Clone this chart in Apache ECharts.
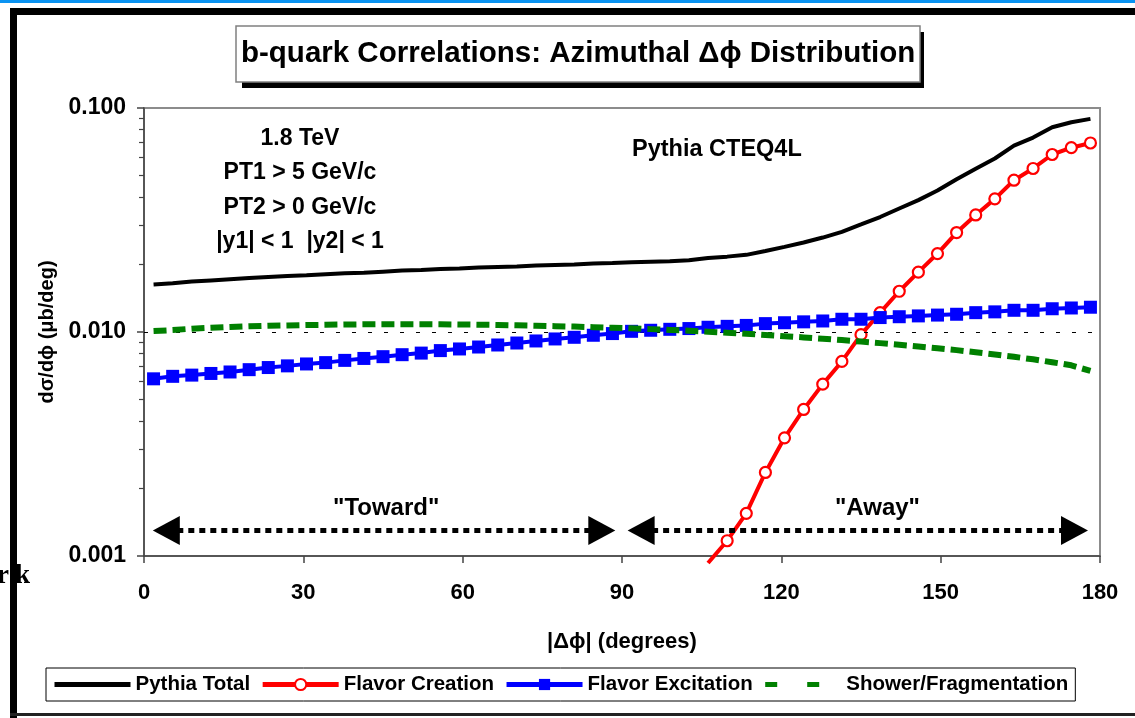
<!DOCTYPE html>
<html>
<head>
<meta charset="utf-8">
<script src="https://cdn.jsdelivr.net/npm/echarts@6/dist/echarts.min.js"></script>
<style>html,body{margin:0;padding:0;background:#fff;}#c{width:1135px;height:718px;}</style>
</head>
<body>
<div id="c"></div>
<script>
// ---- data ----
const xDeg = [1.8,5.4,9,12.6,16.2,19.8,23.4,27,30.6,34.2,37.8,41.4,45,48.6,52.2,55.8,59.4,63,66.6,70.2,73.8,77.4,81,84.6,88.2,91.8,95.4,99,102.6,106.2,109.8,113.4,117,120.6,124.2,127.8,131.4,135,138.6,142.2,145.8,149.4,153,156.6,160.2,163.8,167.4,171,174.6,178.2];
const pythiaTotal = [0.0163,0.0165,0.0168,0.0170,0.0172,0.0174,0.0176,0.0178,0.0179,0.0181,0.0183,0.0184,0.0186,0.0188,0.0189,0.0191,0.0192,0.0194,0.0195,0.0196,0.0198,0.0199,0.0200,0.0202,0.0203,0.0205,0.0206,0.0207,0.0209,0.0214,0.0217,0.0221,0.0230,0.0240,0.0251,0.0264,0.0280,0.0302,0.0326,0.0356,0.0388,0.0428,0.0481,0.0536,0.0595,0.0679,0.0738,0.0820,0.0864,0.0894];
const flavorExcitation = [0.00618,0.00634,0.00642,0.00653,0.00663,0.00679,0.00694,0.00706,0.00720,0.00730,0.00747,0.00762,0.00776,0.00792,0.00805,0.00826,0.00840,0.00857,0.00875,0.00893,0.00912,0.00931,0.00947,0.00967,0.00984,0.01007,0.01018,0.01028,0.01036,0.0105,0.0106,0.0107,0.0109,0.0110,0.0111,0.0112,0.0114,0.0114,0.0116,0.0117,0.0118,0.0119,0.0120,0.0122,0.0123,0.0125,0.0125,0.0127,0.0128,0.0129];
const showerFrag = [0.0101,0.0102,0.01035,0.01045,0.01053,0.0106,0.01066,0.0107,0.01074,0.01077,0.0108,0.01082,0.01083,0.01083,0.01083,0.01082,0.0108,0.01078,0.01075,0.01071,0.01067,0.01062,0.01057,0.01051,0.01045,0.01038,0.0103,0.01022,0.01013,0.01003,0.00993,0.00982,0.0097,0.00958,0.00946,0.00933,0.0092,0.00906,0.00892,0.00877,0.00862,0.00846,0.0083,0.00812,0.00794,0.00775,0.00755,0.00733,0.0071,0.0067];
const creationDeg = [106.2,109.8,113.4,117,120.6,124.2,127.8,131.4,135,138.6,142.2,145.8,149.4,153,156.6,160.2,163.8,167.4,171,174.6,178.2];
const flavorCreation = [0.00093,0.00117,0.00155,0.00236,0.00337,0.00451,0.00585,0.00739,0.00973,0.0122,0.0152,0.0185,0.0224,0.0278,0.0333,0.0393,0.0476,0.0537,0.0620,0.0665,0.0698];
const seriesNames = ['Pythia Total','Flavor Creation','Flavor Excitation','Shower/Fragmentation'];
const xTicks = [0,30,60,90,120,150,180];
const yMajorTicks = [0.001,0.010,0.100];
const yMinorTicks = [0.002,0.003,0.004,0.005,0.006,0.007,0.008,0.009,0.02,0.03,0.04,0.05,0.06,0.07,0.08,0.09];
const infoLines = ['1.8 TeV','PT1 > 5 GeV/c','PT2 > 0 GeV/c','|y1| < 1  |y2| < 1'];

const F = '"Liberation Sans", Arial, sans-serif';
const zip = (xs, ys) => xs.map((x, i) => [x, ys[i]]);

const chart = echarts.init(document.getElementById('c'), null, {renderer: 'canvas'});
const option = {
  animation: false,
  backgroundColor: '#fff',
  title: {
    text: 'b-quark Correlations: Azimuthal \u0394\u03d5 Distribution',
    left: 236, top: 26,
    padding: [13, 5],
    backgroundColor: '#fff',
    borderColor: '#808080', borderWidth: 1.5,
    textStyle: {fontFamily: F, fontWeight: 'bold', fontSize: 29.5, color: '#000'}
  },
  legend: {
    data: [
      {name: seriesNames[0], itemStyle: {opacity: 0}},
      {name: seriesNames[1]},
      {name: seriesNames[2]},
      {name: seriesNames[3], itemStyle: {opacity: 0}, lineStyle: {type: [12, 30]}}
    ],
    left: 46, top: 668,
    padding: [6, 7, 6, 6],
    itemWidth: 76, itemHeight: 14, itemGap: 10,
    lineStyle: {width: 5},
    borderColor: '#000', borderWidth: 1, backgroundColor: '#fff',
    textStyle: {fontFamily: F, fontWeight: 'bold', fontSize: 20.5, color: '#000'}
  },
  grid: {left: 144, right: 35, top: 108, bottom: 162, show: true, borderColor: '#8c8c8c', borderWidth: 2, backgroundColor: 'transparent'},
  xAxis: {
    type: 'value', min: xTicks[0], max: xTicks[xTicks.length-1], interval: 30,
    name: '|\u0394\u03d5| (degrees)', nameLocation: 'middle', nameGap: 75,
    nameTextStyle: {fontFamily: F, fontWeight: 'bold', fontSize: 22, color: '#000'},
    axisLine: {show: true, onZero: false, lineStyle: {color: '#444', width: 1.5}},
    axisTick: {show: true, inside: false, length: 7, lineStyle: {color: '#444', width: 1.5}},
    axisLabel: {fontFamily: F, fontWeight: 'bold', fontSize: 22, color: '#000', margin: 26},
    splitLine: {show: false}
  },
  yAxis: [{
    type: 'log', logBase: 10, min: yMajorTicks[0], max: yMajorTicks[yMajorTicks.length-1],
    name: 'd\u03c3/d\u03d5 (\u03bcb/deg)', nameLocation: 'middle', nameGap: 86,
    nameTextStyle: {fontFamily: F, fontWeight: 'bold', fontSize: 20, color: '#000'},
    axisLine: {show: true, lineStyle: {color: '#444', width: 1.5}},
    axisTick: {show: true, inside: false, length: 7, lineStyle: {color: '#444', width: 1.5}},
    axisLabel: {fontFamily: F, fontWeight: 'bold', fontSize: 23, color: '#000', margin: 18,
      formatter: v => Number(v).toFixed(3)},
    splitLine: {show: false}
  }, {
    type: 'value', min: Math.log10(yMajorTicks[0]), max: Math.log10(yMajorTicks[yMajorTicks.length-1]),
    position: 'left',
    axisLine: {show: false},
    axisLabel: {show: false},
    splitLine: {show: false},
    axisTick: {show: true, inside: false, length: 5, customValues: yMinorTicks.map(v => Math.log10(v)), lineStyle: {color: '#444', width: 1.2}}
  }],
  graphic: [
    {type: 'rect', z: 0, shape: {x: 242, y: 32, width: 682, height: 56}, style: {fill: '#000'}},
    {type: 'text', z: 50, left: 300 - 120, top: 121, style: {text: infoLines.join('\n'), width: 240, align: 'center', textAlign: 'center', x: 120, lineHeight: 34.5, font: 'bold 23px ' + F, fill: '#000'}},
    {type: 'text', z: 50, left: 632, top: 138, style: {text: 'Pythia CTEQ4L', font: 'bold 23.5px ' + F, fill: '#000'}},
    {type: 'text', z: 40, left: -3, top: 563, style: {text: 'r', font: 'bold 27px "Liberation Serif", serif', fill: '#000'}},
    {type: 'text', z: 40, left: 15, top: 563, style: {text: 'k', font: 'bold 27px "Liberation Serif", serif', fill: '#000'}},
    {type: 'rect', z: 100, shape: {x: 0, y: 0, width: 1135, height: 3}, style: {fill: '#0a93f2'}},
    {type: 'rect', z: 100, shape: {x: 10, y: 8, width: 1125, height: 7}, style: {fill: '#000'}},
    {type: 'rect', z: 100, shape: {x: 10, y: 8, width: 7, height: 710}, style: {fill: '#000'}},
    {type: 'rect', z: 100, shape: {x: 10, y: 713, width: 1125, height: 3}, style: {fill: '#222'}}
  ],
  series: [
    {
      name: '_annotations', type: 'line', data: [], z: 1, silent: true,
      markLine: {
        silent: true, animation: false, symbol: ['none', 'none'], label: {show: false},
        lineStyle: {color: '#000', width: 1, type: [4, 12]},
        data: [{yAxis: 0.01}]
      }
    },
    {
      name: '_arrows', type: 'line', data: [], z: 1, silent: true,
      markLine: {
        silent: true, animation: false, symbol: ['triangle', 'triangle'], symbolSize: [29, 27],
        label: {show: false},
        lineStyle: {color: '#000', width: 5, type: [6, 5]},
        itemStyle: {color: '#000'},
        data: [
          [{coord: [4.2, 0.0013]}, {coord: [86.2, 0.0013]}],
          [{coord: [93.6, 0.0013]}, {coord: [175.2, 0.0013]}]
        ]
      },
      markPoint: {
        silent: true, animation: false, symbol: 'circle', symbolSize: 0,
        label: {show: true, position: 'inside', formatter: '{b}', fontFamily: F, fontWeight: 'bold', fontSize: 24, color: '#000'},
        data: [
          {name: '"Toward"', coord: [45.6, 0.00163]},
          {name: '"Away"', coord: [138.1, 0.00163]}
        ]
      }
    },
    {
      name: seriesNames[0], type: 'line', z: 3, data: zip(xDeg, pythiaTotal),
      showSymbol: false, symbol: 'none',
      lineStyle: {color: '#000', width: 4}, itemStyle: {color: '#000'}
    },
    {
      name: seriesNames[1], type: 'line', z: 4, clip: false,
      data: creationDeg.map((d, i) => i === 0 ? {value: [d, flavorCreation[i]], symbol: 'none'} : [d, flavorCreation[i]]),
      symbol: 'circle', symbolSize: 11, showSymbol: true,
      lineStyle: {color: '#ff0000', width: 4},
      itemStyle: {color: '#ffffff', borderColor: '#ff0000', borderWidth: 2.2}
    },
    {
      name: seriesNames[2], type: 'line', z: 5, data: zip(xDeg, flavorExcitation),
      symbol: 'rect', symbolSize: 13, showSymbol: true,
      lineStyle: {color: '#0000ff', width: 4},
      itemStyle: {color: '#0000ff'}
    },
    {
      name: seriesNames[3], type: 'line', z: 6, data: zip(xDeg, showerFrag),
      showSymbol: false, symbol: 'none',
      lineStyle: {color: '#008000', width: 6, type: [13, 6]},
      itemStyle: {color: '#008000'}
    }
  ]
};
chart.setOption(option);
</script>
</body>
</html>
